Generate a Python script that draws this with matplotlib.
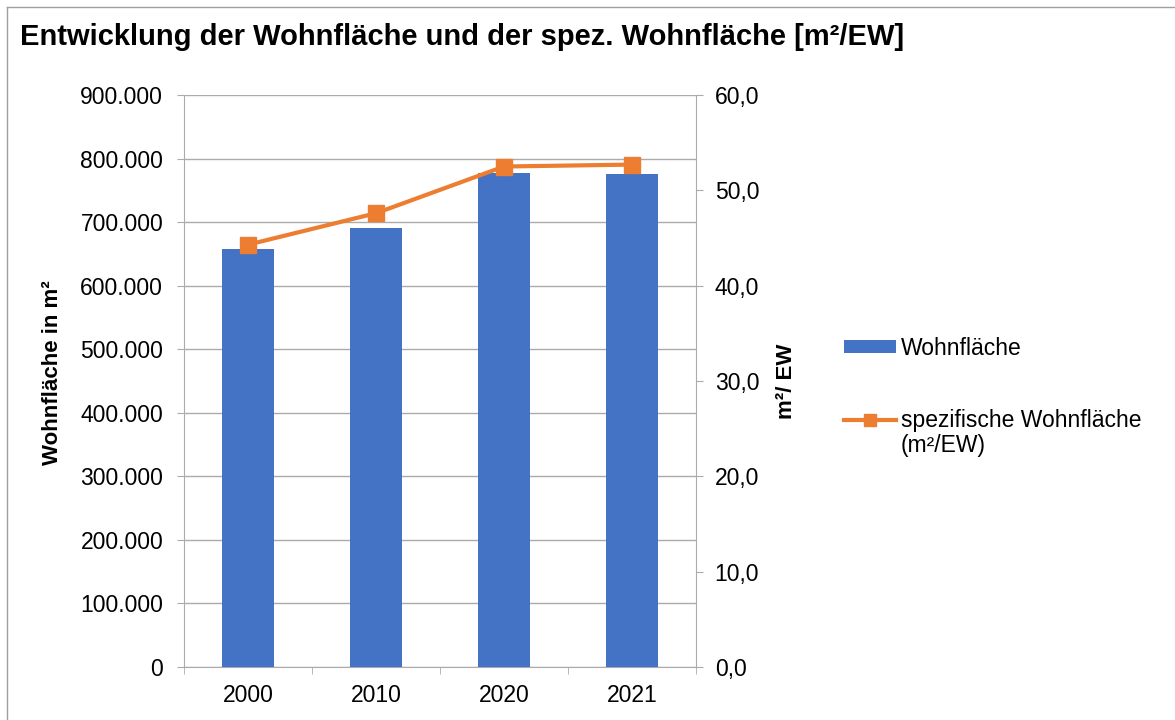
import matplotlib
matplotlib.use("Agg")
import matplotlib.pyplot as plt
import matplotlib.ticker as ticker
from matplotlib.lines import Line2D
import numpy as np

plt.rcParams["font.family"] = ["Liberation Sans", "DejaVu Sans"]

# ── Data ──────────────────────────────────────────────────────────────────────
years = ["2000", "2010", "2020", "2021"]
wohnflaeche = [657000, 690000, 776500, 776000]
spez_wohnflaeche = [44.3, 47.6, 52.5, 52.7]

BLUE = "#4472C4"
ORANGE = "#ED7D31"
GRID = "#ABABAB"
TICK_FS = 16.5


def de_fmt(decimals):
    # German number format: 900.000 / 60,0
    def f(v, pos):
        s = f"{v:,.{decimals}f}"
        return s.replace(",", "X").replace(".", ",").replace("X", ".")
    return ticker.FuncFormatter(f)


fig = plt.figure(figsize=(11.75, 7.2), dpi=100)

# thin frame on left/top edge (chart area border)
fig.add_artist(Line2D([7 / 1175, 7 / 1175], [0, 1 - 7 / 720], transform=fig.transFigure,
                      color="#A0A0A0", linewidth=1.0))
fig.add_artist(Line2D([7 / 1175, 1], [1 - 7 / 720, 1 - 7 / 720], transform=fig.transFigure,
                      color="#A0A0A0", linewidth=1.0))

ax = fig.add_axes([184 / 1175, 53 / 720, 512 / 1175, 572 / 720])
x = np.arange(len(years))
bars = ax.bar(x, wohnflaeche, width=0.4, color=BLUE, zorder=3)

ax.set_xlim(-0.5, len(years) - 0.5)
ax.set_ylim(0, 900000)
ax.yaxis.set_major_locator(ticker.MultipleLocator(100000))
ax.yaxis.set_major_formatter(de_fmt(0))
ax.grid(axis="y", color=GRID, linewidth=1.0, zorder=0)
ax.set_xticks(x)
ax.set_xticklabels(years)
ax.xaxis.set_minor_locator(ticker.FixedLocator(np.arange(-0.5, len(years), 1.0)))
ax.tick_params(axis="x", which="major", length=0, labelsize=TICK_FS, pad=12)
ax.tick_params(axis="x", which="minor", length=5, color=GRID)
ax.tick_params(axis="y", length=5, color=GRID, labelsize=TICK_FS, pad=10)
for side in ["top", "right"]:
    ax.spines[side].set_visible(False)
ax.spines["bottom"].set_color(GRID)
ax.spines["left"].set_color(GRID)

ax2 = ax.twinx()
line, = ax2.plot(x, spez_wohnflaeche, color=ORANGE, linewidth=3, marker="s",
                 markersize=12, zorder=4)
ax2.set_ylim(0, 60)
ax2.yaxis.set_major_locator(ticker.MultipleLocator(10))
ax2.yaxis.set_major_formatter(de_fmt(1))
ax2.tick_params(axis="y", length=5, color=GRID, labelsize=TICK_FS, pad=8.5)
for side in ["top", "left", "bottom"]:
    ax2.spines[side].set_visible(False)
ax2.spines["right"].set_color(GRID)

# axis titles
fig.text(53 / 1175, 1 - 373 / 720, "Wohnfläche in m²", rotation=90, fontsize=16,
         fontweight="bold", ha="center", va="center")
fig.text(786 / 1175, 1 - 381 / 720, "m²/ EW", rotation=90, fontsize=16,
         fontweight="bold", ha="center", va="center")

fig.text(20 / 1175, 1 - 45 / 720, "Entwicklung der Wohnfläche und der spez. Wohnfläche [m²/EW]",
         fontsize=21, fontweight="bold", va="baseline", ha="left")

# legend: handle sits on the first line of the two-line label, as in Excel
leg = fig.legend([bars, line], ["Wohnfläche", "spezifische Wohnfläche"],
                 loc="upper left", bbox_to_anchor=(844 / 1175, 1 - 337 / 720),
                 frameon=False, fontsize=16.5, handlelength=2.27, handleheight=0.48,
                 labelspacing=2.14, handletextpad=0.22, borderpad=0, borderaxespad=0,
                 markerscale=0.75)
fig.canvas.draw()
bb = leg.get_texts()[1].get_window_extent()
fig.text(bb.x0 / 1175, (bb.y0 - 25) / 720, "(m²/EW)", fontsize=16.5,
         ha="left", va="bottom")

plt.savefig("out.png", dpi=100)
plt.close(fig)
